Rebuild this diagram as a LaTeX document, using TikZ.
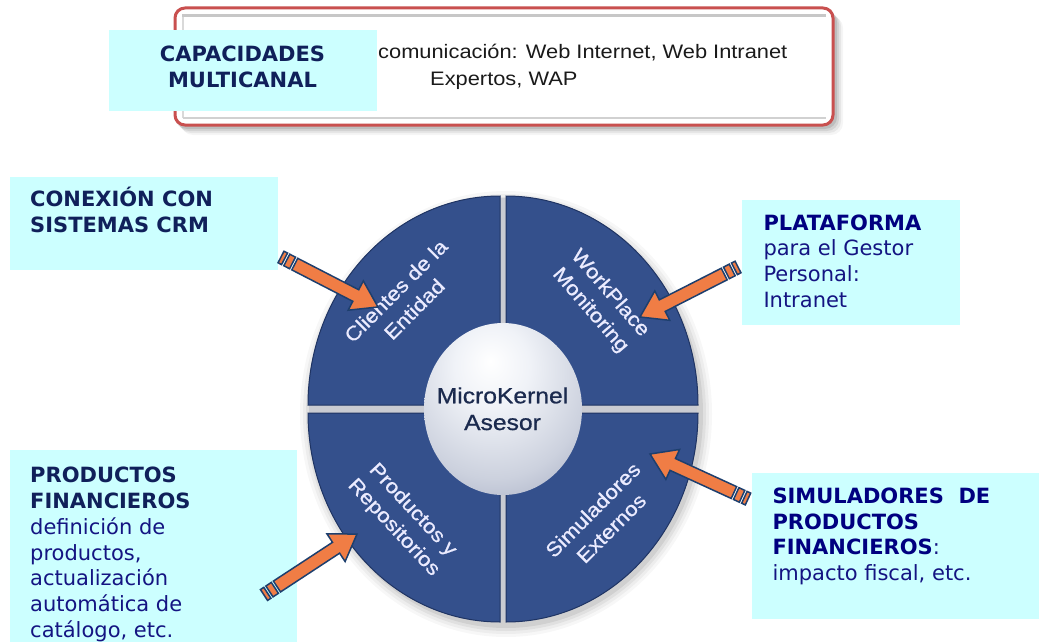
\documentclass[tikz,border=0pt]{standalone}
\usepackage{fontspec}
\setmainfont{DejaVu Sans}
\newfontfamily\wheelfont[FakeStretch=1.12, FakeBold=0.8]{Liberation Sans}
\newfontfamily\topfont[FakeStretch=1.12]{Liberation Sans}
\usetikzlibrary{calc}
\definecolor{boxfill}{HTML}{CCFFFF}
\definecolor{titleA}{HTML}{10205A}
\definecolor{titleB}{HTML}{000080}
\definecolor{bodyc}{HTML}{141482}
\definecolor{quad}{HTML}{34508C}
\definecolor{quadedge}{HTML}{1F3463}
\definecolor{gapc}{HTML}{C9CBD2}
\definecolor{arrfill}{HTML}{F07D45}
\definecolor{arrline}{HTML}{1D3F6E}
\definecolor{framec}{HTML}{C9504F}
\definecolor{kern}{HTML}{1B2A4E}
\definecolor{toptext}{HTML}{1A1A1A}
\pgfdeclareradialshading{sphereshade}{\pgfpoint{-4bp}{14bp}}{%
  rgb(0bp)=(1,1,1);
  rgb(12bp)=(0.94,0.95,0.97);
  rgb(30bp)=(0.80,0.82,0.87);
  rgb(47bp)=(0.60,0.63,0.73);
  rgb(50bp)=(0.52,0.55,0.67);
  rgb(100bp)=(0.52,0.55,0.67)}
\newcommand\farrow[2]{%
  \path let \p1=($(#2)-(#1)$) in \pgfextra{%
    \pgfmathsetmacro\arrang{atan2(\y1,\x1)}%
    \pgfmathsetmacro\arrlen{veclen(\x1,\y1)}%
    \global\let\farang\arrang\global\let\farlen\arrlen};
  \begin{scope}[shift={(#1)}, rotate=\farang]
    \filldraw[arrowst] (0,-6.5) rectangle (4,6.5);
    \filldraw[arrowst] (6.5,-6.5) rectangle (13,6.5);
    \filldraw[arrowst] (15.5,-6.5) -- ({\farlen-25},-6.5) -- ({\farlen-25},-16.5)
      -- (\farlen,0) -- ({\farlen-25},16.5) -- ({\farlen-25},6.5) -- (15.5,6.5) -- cycle;
  \end{scope}}
\begin{document}
\begin{tikzpicture}[x=1pt,y=-1pt,
  boxst/.style={fill=boxfill, inner sep=0pt},
  titlefont/.style={font=\bfseries\fontsize{21}{26}\selectfont},
  bodytxt/.style={font=\fontsize{21}{25.8}\selectfont, inner sep=0pt, anchor=base west},
  quadst/.style={fill=quad, draw=quadedge, line width=1pt},
  wheeltxt/.style={text=white!92!blue, align=center, font=\wheelfont\fontsize{20}{26}\selectfont},
  arrowst/.style={fill=arrfill, draw=arrline, line width=1.5pt, line join=miter},
  toptxt/.style={text=toptext, font=\topfont\fontsize{19.5}{26}\selectfont, inner sep=0pt, anchor=base west}]
\clip (0,0) rectangle (1039,642);
\fill[white] (0,0) rectangle (1039,642);

% top rounded frame with shadow
\foreach \s/\o in {8/0.04,6/0.06,4/0.08,2/0.10}{
  \fill[black,opacity=\o,rounded corners=12] ({173+\s},{8+\s}) rectangle ({835+\s},{127+\s});}
\draw[framec, line width=3pt, fill=white, rounded corners=10] (175,8) rectangle (833,125);
\draw[black!22, line width=3pt] (182,15.5) -- (826,15.5);
\draw[black!15, line width=2pt] (183,17) -- (183,118);
\draw[black!18, line width=2pt] (183,118) -- (826,118);
\node[toptxt] (t1) at (378,58.5) {comunicación: Web Internet, Web Intranet};
\node[toptxt] (t2) at (430,85.5) {Expertos, WAP};

% text boxes
\node[boxst, minimum width=268pt, minimum height=81pt] (capbox) at (243,70.5) {};
\node[boxst, minimum width=268pt, minimum height=93pt] (crmbox) at (144,223.5) {};
\node[boxst, minimum width=218pt, minimum height=125pt] (platbox) at (851,262.5) {};
\node[boxst, minimum width=287pt, minimum height=200pt] (prodbox) at (153.5,550) {};
\node[boxst, minimum width=290pt, minimum height=146pt] (simbox) at (897,546) {};

\node[titlefont, text=titleA, inner sep=0pt, anchor=base] (captxt) at (242.5,61.7)
  {\parbox[t]{260pt}{\centering CAPACIDADES\\MULTICANAL}};
\node[titlefont, text=titleA, inner sep=0pt, anchor=base west] (crmtxt) at (30,206.7)
  {\parbox[t]{240pt}{\raggedright CONEXIÓN CON\\SISTEMAS CRM}};
\node[bodytxt, text=bodyc] (plattxt) at (763.3,230)
  {\parbox[t]{195pt}{\raggedright\textcolor{titleB}{\bfseries PLATAFORMA}\\para el Gestor\\Personal:\\Intranet}};
\node[bodytxt, text=bodyc] (prodtxt) at (30,482.7)
  {\parbox[t]{260pt}{\raggedright\textcolor{titleA}{\bfseries PRODUCTOS}\\\textcolor{titleA}{\bfseries FINANCIEROS}\\definición de\\productos,\\actualización\\automática de\\catálogo, etc.}};
\node[bodytxt, text=bodyc] (simtxt) at (772.3,503.3)
  {\parbox[t]{262pt}{\raggedright\textcolor{titleB}{\bfseries SIMULADORES\ \ DE}\\\textcolor{titleB}{\bfseries PRODUCTOS}\\\textcolor{titleB}{\bfseries FINANCIEROS}:\\impacto fiscal, etc.}};

% wheel shadow and gaps
\foreach \s/\o in {12/0.03,9/0.04,6/0.05,3/0.07}{
  \fill[black,opacity=\o] (506,414) ellipse [x radius={194+\s}, y radius={211+\s}];}
\fill[gapc] (503,409) ellipse [x radius=194, y radius=211];

% quadrants
\filldraw[quadst] (500,405) -- (308,405) arc[start angle=180, end angle=270, x radius=192, y radius=209] -- cycle;
\filldraw[quadst] (506,405) -- (506,196) arc[start angle=270, end angle=360, x radius=192, y radius=209] -- cycle;
\filldraw[quadst] (500,413) -- (308,413) arc[start angle=180, end angle=90, x radius=192, y radius=209] -- cycle;
\filldraw[quadst] (506,413) -- (698,413) arc[start angle=0, end angle=90, x radius=192, y radius=209] -- cycle;

\node[wheeltxt, rotate=45] (q1) at (405,300) {Clientes de la\\Entidad};
\node[wheeltxt, rotate=-49] (q2) at (600,302) {WorkPlace\\Monitoring};
\node[wheeltxt, rotate=-47] (q3) at (403,519) {Productos y\\Repositorios};
\node[wheeltxt, rotate=45] (q4) at (602,519) {Simuladores\\Externos};

% central sphere
\path[shading=sphereshade] (503,409) ellipse [x radius=79, y radius=86];
\node[text=kern, font=\wheelfont\fontsize{22}{26.7}\selectfont, inner sep=0pt, anchor=base] (mk) at (502.5,403.3)
  {\parbox[t]{160pt}{\centering MicroKernel\\Asesor}};

% arrows
\coordinate (a1t) at (281,257);
\coordinate (a1h) at (378,307);
\coordinate (a2t) at (738,267);
\coordinate (a2h) at (640,317);
\coordinate (a3t) at (264,595);
\coordinate (a3h) at (357,534);
\coordinate (a4t) at (748,499);
\coordinate (a4h) at (650,454);
\farrow{a1t}{a1h}
\farrow{a2t}{a2h}
\farrow{a3t}{a3h}
\farrow{a4t}{a4h}
\end{tikzpicture}
\end{document}
